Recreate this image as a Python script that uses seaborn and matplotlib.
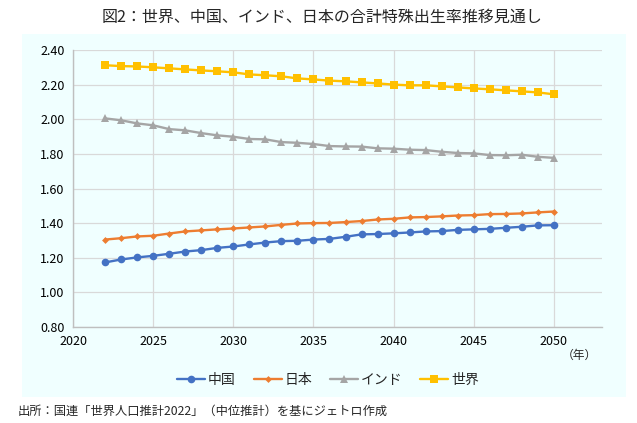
import numpy as np
import pandas as pd
import matplotlib
matplotlib.use("Agg")
import matplotlib.pyplot as plt
import seaborn as sns
from matplotlib.lines import Line2D

years = list(range(2022, 2051))
china = [1.173, 1.190, 1.202, 1.211, 1.223, 1.236, 1.244, 1.257, 1.265, 1.277, 1.288, 1.296,
         1.298, 1.305, 1.309, 1.321, 1.335, 1.337, 1.341, 1.346, 1.352, 1.354, 1.361, 1.364,
         1.367, 1.373, 1.379, 1.387, 1.388]
japan = [1.305, 1.313, 1.323, 1.327, 1.340, 1.352, 1.358, 1.364, 1.369, 1.375, 1.381, 1.390,
         1.398, 1.400, 1.401, 1.406, 1.412, 1.421, 1.425, 1.433, 1.435, 1.439, 1.444, 1.446,
         1.452, 1.453, 1.456, 1.462, 1.467]
india = [2.005, 1.994, 1.976, 1.965, 1.943, 1.936, 1.920, 1.907, 1.899, 1.886, 1.884, 1.868,
         1.864, 1.857, 1.845, 1.843, 1.842, 1.832, 1.830, 1.824, 1.822, 1.812, 1.805, 1.803,
         1.793, 1.792, 1.795, 1.783, 1.777]
world = [2.312, 2.307, 2.305, 2.300, 2.294, 2.288, 2.282, 2.277, 2.271, 2.259, 2.254, 2.248,
         2.236, 2.230, 2.223, 2.219, 2.213, 2.207, 2.200, 2.196, 2.196, 2.190, 2.184, 2.178,
         2.173, 2.167, 2.161, 2.155, 2.144]
series_names = ["中国", "日本", "インド", "世界"]
xticks = [2020, 2025, 2030, 2035, 2040, 2045, 2050]
yticks = [0.80, 1.00, 1.20, 1.40, 1.60, 1.80, 2.00, 2.20, 2.40]
title = "図2：世界、中国、インド、日本の合計特殊出生率推移見通し"
source = "出所：国連「世界人口推計2022」（中位推計）を基にジェトロ作成"
unit = "（年）"

df = pd.DataFrame({
    "year": years * 4,
    "value": china + japan + india + world,
    "country": sum([[n] * len(years) for n in series_names], []),
})

sns.set_theme(style="white")
plt.rcParams["font.family"] = ["Noto Sans CJK JP", "DejaVu Sans"]

colors = {"中国": "#4472C4", "日本": "#ED7D31", "インド": "#A5A5A5", "世界": "#FFC000"}
markers = {"中国": "o", "日本": "D", "インド": "^", "世界": "s"}

fig = plt.figure(figsize=(6.37, 4.23), dpi=100)
bg = fig.add_axes([22 / 637, 1 - 397 / 423, (626 - 22) / 637, (397 - 34) / 423], zorder=-5)
bg.set_facecolor("#F0FFFF")
bg.set_xticks([]); bg.set_yticks([])
for s in bg.spines.values():
    s.set_visible(False)

ax = fig.add_axes([73 / 637, 1 - 327 / 423, (602 - 73) / 637, (327 - 50) / 423], zorder=1)
ax.set_facecolor("#F0FFFF")

sns.lineplot(data=df, x="year", y="value", hue="country", style="country",
             palette=colors, markers=markers, dashes=False, linewidth=1.7,
             markersize=5.5, markeredgewidth=0, ax=ax, legend=False, zorder=3)
for line in ax.lines:
    if line.get_marker() == "D":
        line.set_markersize(3.5)

ax.set_xlim(2020, 2053)
ax.set_ylim(0.80, 2.40)
ax.set_xticks(xticks)
ax.set_yticks(yticks)
ax.set_yticklabels([f"{v:.2f}" for v in yticks])
ax.tick_params(axis="both", labelsize=9, colors="black", length=0, pad=6)
ax.grid(True, color="#D9D9D9", linewidth=0.9, zorder=0)
ax.set_axisbelow(True)
for s in ["top", "right"]:
    ax.spines[s].set_visible(False)
for s in ["left", "bottom"]:
    ax.spines[s].set_color("#BFBFBF")
    ax.spines[s].set_linewidth(1.0)
ax.set_xlabel("")
ax.set_ylabel("")

ax.text(2051.6, -0.08, unit, transform=ax.get_xaxis_transform(), fontsize=8.5,
        ha="center", va="top")

handles = [Line2D([0], [0], color=colors[n], marker=markers[n], linewidth=1.7,
                  markersize=5.5 if n != "日本" else 3.5, markeredgewidth=0) for n in series_names]
fig.legend(handles, series_names, loc="center", bbox_to_anchor=(328 / 637, 1 - 380 / 423),
           ncol=4, frameon=False, fontsize=10, handlelength=2.0, handletextpad=0.2,
           columnspacing=1.3)

fig.text(322 / 637, 1 - 17 / 423, title, ha="center", va="center", fontsize=11.5)
fig.text(18 / 637, 1 - 411 / 423, source, ha="left", va="center", fontsize=8.8)

fig.savefig("out.png", dpi=100)
